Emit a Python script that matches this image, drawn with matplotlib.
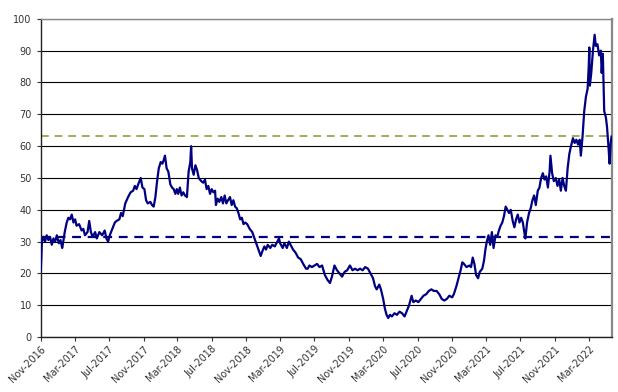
import matplotlib
matplotlib.use("Agg")

import matplotlib.pyplot as plt
import matplotlib.dates as mdates
import pandas as pd

# values
dates = [
    "2016-11-01", "2016-11-03", "2016-11-05", "2016-11-10", "2016-11-16", "2016-11-22", "2016-11-28",
    "2016-12-04", "2016-12-10", "2016-12-16", "2016-12-22", "2016-12-28",
    "2017-01-04", "2017-01-10", "2017-01-16", "2017-01-19", "2017-01-25",
    "2017-02-01", "2017-02-07", "2017-02-13", "2017-02-19", "2017-02-25",
    "2017-03-03", "2017-03-08", "2017-03-17", "2017-03-26",
    "2017-04-01", "2017-04-07", "2017-04-16", "2017-04-22", "2017-04-28",
    "2017-05-04", "2017-05-13", "2017-05-19", "2017-05-28",
    "2017-06-07", "2017-06-16", "2017-06-22", "2017-06-28",
    "2017-07-04", "2017-07-13", "2017-07-22", "2017-07-28",
    "2017-08-07", "2017-08-13", "2017-08-19", "2017-08-28",
    "2017-09-07", "2017-09-16", "2017-09-25",
    "2017-10-01", "2017-10-07", "2017-10-13", "2017-10-22", "2017-10-28",
    "2017-11-04", "2017-11-10", "2017-11-16", "2017-11-25",
    "2017-12-01", "2017-12-07", "2017-12-13", "2017-12-19", "2017-12-25",
    "2018-01-01", "2018-01-07", "2018-01-13", "2018-01-16", "2018-01-22", "2018-01-28",
    "2018-02-04", "2018-02-10", "2018-02-16", "2018-02-22", "2018-02-27",
    "2018-03-04", "2018-03-10", "2018-03-16", "2018-03-22", "2018-03-28",
    "2018-04-04", "2018-04-10", "2018-04-16", "2018-04-19", "2018-04-22", "2018-04-28",
    "2018-05-04", "2018-05-10", "2018-05-16", "2018-05-25",
    "2018-06-01", "2018-06-07", "2018-06-13", "2018-06-19", "2018-06-25",
    "2018-07-01", "2018-07-07", "2018-07-13", "2018-07-16", "2018-07-22", "2018-07-28",
    "2018-08-04", "2018-08-10", "2018-08-16", "2018-08-22", "2018-08-28",
    "2018-09-04", "2018-09-10", "2018-09-16", "2018-09-22", "2018-09-28",
    "2018-10-04", "2018-10-10", "2018-10-16", "2018-10-22", "2018-10-28",
    "2018-11-04", "2018-11-13", "2018-11-22", "2018-11-28",
    "2018-12-04", "2018-12-10", "2018-12-16", "2018-12-22", "2018-12-28",
    "2019-01-04", "2019-01-10", "2019-01-16", "2019-01-25",
    "2019-02-01", "2019-02-10", "2019-02-19", "2019-02-25",
    "2019-03-01", "2019-03-10", "2019-03-16", "2019-03-25",
    "2019-04-01", "2019-04-10", "2019-04-16", "2019-04-25",
    "2019-05-04", "2019-05-13", "2019-05-22",
    "2019-06-01", "2019-06-07", "2019-06-13", "2019-06-22",
    "2019-07-01", "2019-07-10", "2019-07-19", "2019-07-28",
    "2019-08-07", "2019-08-16", "2019-08-25",
    "2019-09-01", "2019-09-10", "2019-09-19", "2019-09-28",
    "2019-10-07", "2019-10-16", "2019-10-25",
    "2019-11-04", "2019-11-13", "2019-11-22",
    "2019-12-01", "2019-12-10", "2019-12-19", "2019-12-28",
    "2020-01-07", "2020-01-16", "2020-01-25",
    "2020-02-01", "2020-02-07", "2020-02-16", "2020-02-22",
    "2020-03-01", "2020-03-07", "2020-03-13", "2020-03-19", "2020-03-25",
    "2020-04-01", "2020-04-10", "2020-04-19", "2020-04-28",
    "2020-05-07", "2020-05-16", "2020-05-25",
    "2020-06-01", "2020-06-10", "2020-06-16", "2020-06-25",
    "2020-07-04", "2020-07-13", "2020-07-22",
    "2020-08-01", "2020-08-10", "2020-08-19", "2020-08-28",
    "2020-09-07", "2020-09-16", "2020-09-25",
    "2020-10-04", "2020-10-13", "2020-10-22",
    "2020-11-01", "2020-11-07", "2020-11-16", "2020-11-25",
    "2020-12-01", "2020-12-07", "2020-12-13", "2020-12-22",
    "2021-01-01", "2021-01-07", "2021-01-13", "2021-01-19", "2021-01-25",
    "2021-02-01", "2021-02-07", "2021-02-16", "2021-02-22", "2021-02-27",
    "2021-03-04", "2021-03-10", "2021-03-16", "2021-03-22", "2021-03-28",
    "2021-04-04", "2021-04-10", "2021-04-16", "2021-04-22", "2021-04-28",
    "2021-05-04", "2021-05-10", "2021-05-16", "2021-05-22", "2021-05-28",
    "2021-06-04", "2021-06-10", "2021-06-16", "2021-06-22", "2021-06-28",
    "2021-07-04", "2021-07-10", "2021-07-16", "2021-07-19", "2021-07-25",
    "2021-08-01", "2021-08-07", "2021-08-13", "2021-08-19", "2021-08-25",
    "2021-09-01", "2021-09-07", "2021-09-13", "2021-09-19", "2021-09-25",
    "2021-10-01", "2021-10-07", "2021-10-13", "2021-10-16", "2021-10-22", "2021-10-28",
    "2021-11-04", "2021-11-10", "2021-11-16", "2021-11-22", "2021-11-28",
    "2021-12-04", "2021-12-10", "2021-12-16", "2021-12-22", "2021-12-28",
    "2022-01-04", "2022-01-10", "2022-01-16", "2022-01-22", "2022-01-28",
    "2022-02-01", "2022-02-07", "2022-02-13", "2022-02-19", "2022-02-25",
    "2022-03-01", "2022-03-03", "2022-03-05", "2022-03-10", "2022-03-16", "2022-03-22", "2022-03-26",
    "2022-04-01", "2022-04-07", "2022-04-13", "2022-04-16", "2022-04-20", "2022-04-25",
    "2022-05-01", "2022-05-05", "2022-05-10", "2022-05-14", "2022-05-18", "2022-05-21",
]
values = [
    21, 25, 30, 31.5, 30, 32, 30.5,
    31.5, 29, 31, 30, 32,
    29.5, 30.5, 28, 29.5, 33,
    36, 37.5, 37, 38.5, 36,
    37, 35, 35.5, 33.5,
    34, 32, 33, 36.5, 33,
    31.5, 33, 31, 33,
    32, 33.5, 31, 30,
    32, 34, 36, 36.5,
    37, 39, 38, 42,
    44, 45.5, 46,
    47.5, 46.5, 48, 50, 47,
    46.5, 43, 42, 42.5,
    41.5, 41, 44, 49, 53,
    55, 54.5, 56, 57, 53, 52,
    48, 47, 46.5, 45, 46.5,
    45, 47, 44.5, 45.5, 44.5,
    44, 52, 55, 60, 53, 51,
    54, 52.5, 50, 49,
    48.5, 49.5, 46.5, 47.5, 45,
    46.5, 45.5, 46, 41.5, 43.5, 42.5,
    44, 42, 44.5, 42, 43,
    44, 41.5, 43, 41, 40.5,
    39, 37, 37.5, 35.5, 36,
    35.5, 34, 33, 31.5,
    30, 28.5, 27, 25.5, 27,
    28.5, 27.5, 29, 28,
    29, 28.5, 30, 31,
    29.5, 28, 29.5, 28,
    30, 28.5, 27.5, 26.5,
    25, 24.5, 23,
    21.5, 21.5, 22.5, 22,
    22.5, 23, 22, 22.5,
    19.5, 18, 17,
    19, 22.5, 21, 20,
    19, 20.5, 21,
    22.5, 21, 21.5,
    21, 21.5, 21, 22,
    21.5, 20, 18.5,
    16, 15, 16.5, 15,
    12, 9, 7, 6, 7,
    6.5, 7.5, 7, 8,
    7.5, 6.5, 8.5,
    10, 13, 11, 11.5,
    11, 12, 13,
    13.5, 14.5, 15, 14.5,
    14.5, 13.5, 12,
    11.5, 12, 13,
    12.5, 13.5, 16, 19,
    21, 23.5, 23, 22,
    22.5, 22, 25, 23, 19.5,
    18.5, 20.5, 21.5, 24, 27.5,
    30, 32, 29, 33, 28,
    32, 31.5, 33.5, 35, 36,
    38, 41, 40, 39, 40,
    36.5, 34.5, 37, 38.5, 36,
    37.5, 36, 32.5, 31, 36,
    39, 40.5, 43, 44.5, 41.5,
    46, 47, 50, 51.5, 49.5,
    50.5, 47, 52, 57, 51.5, 49,
    50, 47.5, 49.5, 46, 50,
    47.5, 46, 53, 57.5, 60,
    62.5, 61, 62, 60.5, 62,
    57, 63, 71, 75.5, 78,
    85, 91, 79, 83, 90, 95, 91.5,
    92, 88.5, 90, 83, 89, 71,
    69, 66, 60, 54.5, 61, 63,
]
lower_level = 31.5
upper_level = 63.2
tick_start = "2016-11-01"
tick_end = "2022-03-01"

df = pd.DataFrame({"date": pd.to_datetime(dates), "value": values})

plt.rcParams["font.family"] = "DejaVu Sans"

fig = plt.figure(figsize=(6.18, 3.92), dpi=100)
ax = fig.add_axes([0.066, 0.140, 0.924, 0.812])

ax.yaxis.grid(True, color="black", linewidth=0.8)
ax.set_axisbelow(True)

ax.plot(df["date"], df["value"], color="#000080", linewidth=1.6, zorder=3)
ax.axhline(lower_level, color="#000080", linewidth=1.6, linestyle=(0, (4, 3)), zorder=2)
ax.axhline(upper_level, color="#9bb05a", linewidth=1.4, linestyle=(0, (4, 3)), zorder=2)

ax.set_ylim(0, 100)
ax.set_yticks(range(0, 101, 10))
ax.set_xlim(pd.Timestamp("2016-11-01"), pd.Timestamp("2022-05-22"))
xticks = pd.date_range(tick_start, tick_end, freq="4MS")
ax.set_xticks(xticks)
ax.xaxis.set_major_formatter(mdates.DateFormatter("%b-%Y"))

for lbl in ax.get_xticklabels():
    lbl.set_rotation(45)
    lbl.set_ha("right")
    lbl.set_rotation_mode("anchor")

ax.tick_params(axis="both", labelsize=7, colors="#333333", length=3, width=0.8, direction="out")
ax.tick_params(axis="x", pad=2)

ax.spines["left"].set_color("#222222")
ax.spines["bottom"].set_color("#222222")
ax.spines["top"].set_color("#888888")
ax.spines["right"].set_color("#888888")
for s in ax.spines.values():
    s.set_linewidth(1.0)
ax.spines["right"].set_linewidth(1.6)

fig.savefig("out.png", dpi=100)
